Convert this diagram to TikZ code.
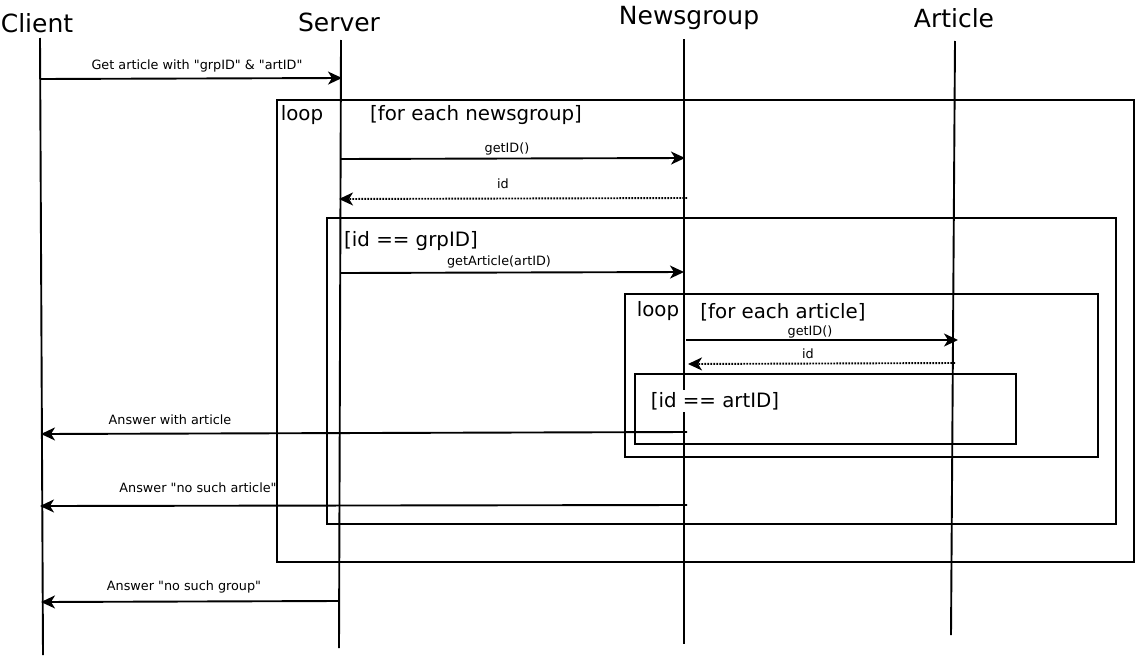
\documentclass[tikz,border=0pt]{standalone}
\usepackage{fontspec}
\setmainfont{DejaVu Sans}
\usetikzlibrary{arrows.meta}
\begin{document}
\begin{tikzpicture}[x=1pt,y=-1pt,
  lifeline/.style={line width=1.9pt},
  frame/.style={line width=1.9pt},
  msg/.style={line width=1.9pt,-{Stealth[length=14pt,width=13pt,inset=4pt]}},
  reply/.style={msg,dash pattern=on 1.6pt off 1.4pt},
  title/.style={font=\fontsize{25}{28}\selectfont,inner sep=0pt,yshift=-2pt},
  flabel/.style={font=\fontsize{19.8}{22}\selectfont,inner sep=0pt,yshift=-2pt},
  mlabel/.style={font=\fontsize{12.8}{15}\selectfont,inner sep=0pt,yshift=-2pt}]
\useasboundingbox (0,0) rectangle (1135,656);
% titles
\node[title] (client) at (37,21) {Client};
\node[title] (server) at (339,20) {Server};
\node[title] (newsgroup) at (689,16) {Newsgroup};
\node[title] (article) at (954,16) {Article};
% lifelines
\coordinate (ct) at (40,38);  \coordinate (cb) at (43,655);
\coordinate (st) at (341,40); \coordinate (sb) at (339,648);
\coordinate (nt) at (684,39); \coordinate (nb) at (684,644);
\coordinate (at) at (955,41); \coordinate (ab) at (951,635);
\draw[lifeline] (ct) -- (cb);
\draw[lifeline] (st) -- (sb);
\draw[lifeline] (nt) -- (nb);
\draw[lifeline] (at) -- (ab);
% frames
\draw[frame] (277,100) rectangle (1134,562);
\node[flabel] (loop1) at (302,113) {loop};
\node[flabel] (cond1) at (476,113) {[for each newsgroup]};
\draw[frame] (327,218) rectangle (1116,524);
\node[flabel] (cond2) at (411,239) {[id == grpID]};
\draw[frame] (625,294) rectangle (1098,457);
\node[flabel] (loop2) at (658,309) {loop};
\node[flabel] (cond3) at (783,310) {[for each article]};
\draw[frame] (635,374) rectangle (1016,444);
\node[flabel,fill=white,inner sep=2pt] (cond4) at (715,399) {[id == artID]};
% message end points
\coordinate (m1a) at (40,79);   \coordinate (m1b) at (342,78);
\coordinate (m2a) at (341,159); \coordinate (m2b) at (685,158);
\coordinate (m3a) at (687,198); \coordinate (m3b) at (339,199);
\coordinate (m4a) at (341,273); \coordinate (m4b) at (684,272);
\coordinate (m5a) at (686,340); \coordinate (m5b) at (958,340);
\coordinate (m6a) at (955,363); \coordinate (m6b) at (688,364);
\coordinate (m7a) at (687,432); \coordinate (m7b) at (41,434);
\coordinate (m8a) at (687,505); \coordinate (m8b) at (40,506);
\coordinate (m9a) at (339,601); \coordinate (m9b) at (41,602);
% messages
\draw[msg] (m1a) -- (m1b);
\node[mlabel] (l1) at (197,64) {Get article with \textquotedbl grpID\textquotedbl\ \& \textquotedbl artID\textquotedbl};
\draw[msg] (m2a) -- (m2b);
\node[mlabel] (l2) at (507,147) {getID()};
\draw[reply] (m3a) -- (m3b);
\node[mlabel] (l3) at (503,182) {id};
\draw[msg] (m4a) -- (m4b);
\node[mlabel] (l4) at (499,260) {getArticle(artID)};
\draw[msg] (m5a) -- (m5b);
\node[mlabel] (l5) at (810,330) {getID()};
\draw[reply] (m6a) -- (m6b);
\node[mlabel] (l6) at (808,352) {id};
\draw[msg] (m7a) -- (m7b);
\node[mlabel] (l7) at (170,418) {Answer with article};
\draw[msg] (m8a) -- (m8b);
\node[mlabel] (l8) at (198,486) {Answer \textquotedbl no such article\textquotedbl};
\draw[msg] (m9a) -- (m9b);
\node[mlabel] (l9) at (184,585) {Answer \textquotedbl no such group\textquotedbl};
\end{tikzpicture}
\end{document}
